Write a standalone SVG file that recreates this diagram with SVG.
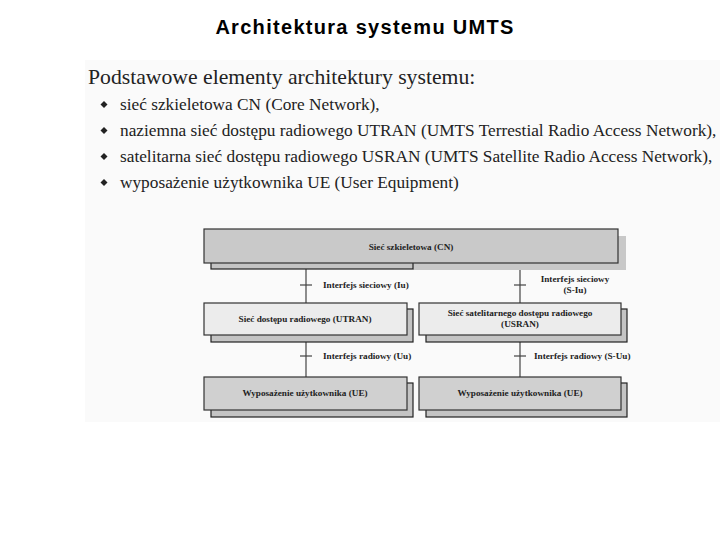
<svg xmlns="http://www.w3.org/2000/svg" width="720" height="540" viewBox="0 0 720 540">
<style>
.title{font-family:"Liberation Sans",Arial,sans-serif;font-weight:bold;font-size:20px;letter-spacing:1.3px;fill:#000}
.head{font-family:"Liberation Serif","Times New Roman",serif;font-size:21.7px;fill:#222}
.item{font-family:"Liberation Serif","Times New Roman",serif;font-size:17.3px;fill:#222}
.lbl{font-family:"Liberation Serif","Times New Roman",serif;font-weight:bold;font-size:9.2px;fill:#222}
.box{stroke:#333;stroke-width:1.2}
.shadow{fill:#c4c4c4;stroke:#222;stroke-width:1.2}
.conn line{stroke:#444;stroke-width:1.2}
</style>
<rect width="720" height="540" fill="#fff"/>
<rect x="85" y="60" width="635" height="362" fill="#fafafa"/>
<text class="title" x="365" y="34" text-anchor="middle">Architektura systemu UMTS</text>
<g id="text-list">
<text class="head" x="88" y="84">Podstawowe elementy architektury systemu:</text>
<g fill="#222">
<path d="M104 101l3.5 3.5-3.5 3.5-3.5-3.5z"/>
<path d="M104 127l3.5 3.5-3.5 3.5-3.5-3.5z"/>
<path d="M104 153l3.5 3.5-3.5 3.5-3.5-3.5z"/>
<path d="M104 179l3.5 3.5-3.5 3.5-3.5-3.5z"/>
</g>
<text class="item" x="120" y="110">sieć szkieletowa CN (Core Network),</text>
<text class="item" x="120" y="136">naziemna sieć dostępu radiowego UTRAN (UMTS Terrestial Radio Access Network),</text>
<text class="item" x="120" y="162">satelitarna sieć dostępu radiowego USRAN (UMTS Satellite Radio Access Network),</text>
<text class="item" x="120" y="188">wyposażenie użytkownika UE (User Equipment)</text>
</g>
<g id="connectors" class="conn">
<line x1="306" y1="263" x2="306" y2="377"/>
<line x1="520" y1="263" x2="520" y2="377"/>
<line x1="300" y1="285" x2="312" y2="285"/>
<line x1="514" y1="285" x2="526" y2="285"/>
<line x1="300" y1="356" x2="312" y2="356"/>
<line x1="514" y1="356" x2="526" y2="356"/>
</g>
<g id="cn">
<rect x="413" y="236" width="213" height="34" fill="#c8c8c8"/>
<rect x="211" y="236" width="202" height="33" class="shadow"/>
<rect x="204" y="229" width="414" height="34" fill="#c9c9c9" class="box"/>
<text class="lbl" x="411" y="250" text-anchor="middle">Sieć szkieletowa (CN)</text>
</g>
<g id="label-iu"><text class="lbl" x="323" y="288">Interfejs sieciowy (Iu)</text></g>
<g id="label-siu">
<text class="lbl" x="575" y="282" text-anchor="middle">Interfejs sieciowy</text>
<text class="lbl" x="575" y="293" text-anchor="middle">(S-Iu)</text>
</g>
<g id="utran">
<rect x="211" y="309" width="202" height="33" class="shadow"/>
<rect x="204" y="303" width="203" height="32" fill="#ececec" class="box"/>
<text class="lbl" x="305" y="322" text-anchor="middle">Sieć dostępu radiowego (UTRAN)</text>
</g>
<g id="usran">
<rect x="426" y="309" width="201" height="33" class="shadow"/>
<rect x="419" y="303" width="202" height="32" fill="#ececec" class="box"/>
<text class="lbl" x="520" y="316" text-anchor="middle">Sieć satelitarnego dostępu radiowego</text>
<text class="lbl" x="520" y="327" text-anchor="middle">(USRAN)</text>
</g>
<g id="label-uu"><text class="lbl" x="323" y="359">Interfejs radiowy (Uu)</text></g>
<g id="label-suu"><text class="lbl" x="534" y="359">Interfejs radiowy (S-Uu)</text></g>
<g id="ue-left">
<rect x="211" y="383" width="202" height="34" class="shadow"/>
<rect x="204" y="377" width="203" height="33" fill="#d0d0d0" class="box"/>
<text class="lbl" x="305" y="396" text-anchor="middle">Wyposażenie użytkownika (UE)</text>
</g>
<g id="ue-right">
<rect x="426" y="383" width="201" height="34" class="shadow"/>
<rect x="419" y="377" width="202" height="33" fill="#d0d0d0" class="box"/>
<text class="lbl" x="520" y="396" text-anchor="middle">Wyposażenie użytkownika (UE)</text>
</g>
</svg>
